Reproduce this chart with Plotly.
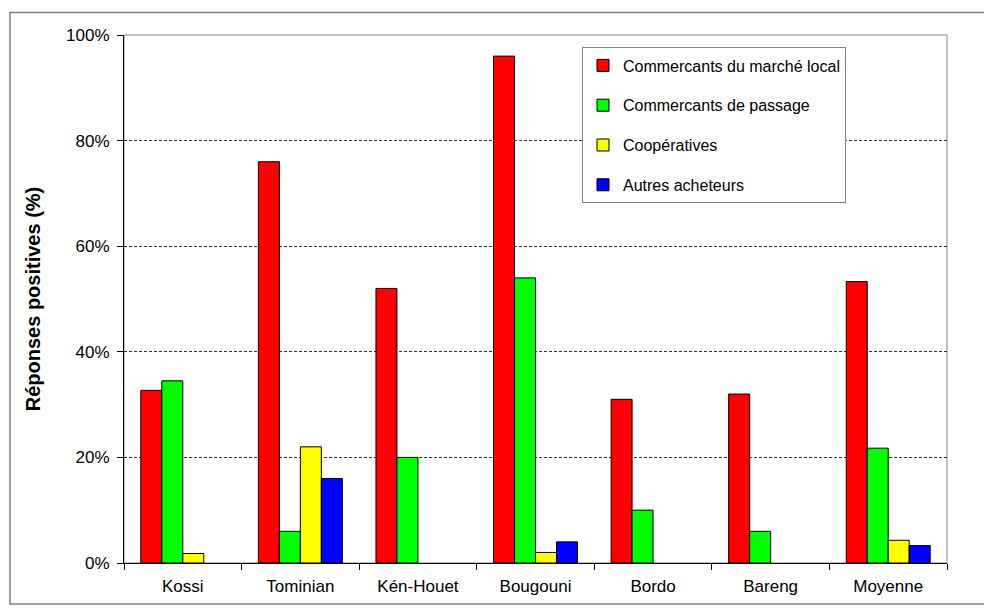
import plotly.graph_objects as go

# Sites surveyed plus the overall mean
categories = ["Kossi", "Tominian", "Kén-Houet", "Bougouni", "Bordo", "Bareng", "Moyenne"]

# Share of positive answers (%) for each buyer type
marche_local = [32.7, 76, 52, 96, 31, 32, 53.3]
de_passage = [34.5, 6, 20, 54, 10, 6, 21.75]
cooperatives = [1.8, 22, 0, 2, 0, 0, 4.3]
autres = [0, 16, 0, 4, 0, 0, 3.3]

series_names = [
    "Commercants du marché local",
    "Commercants de passage",
    "Coopératives",
    "Autres acheteurs",
]
series_values = [marche_local, de_passage, cooperatives, autres]
series_colors = ["#FF0000", "#00FF00", "#FFFF00", "#0000FF"]

y_ticks = [0, 20, 40, 60, 80, 100]

FONT = "Liberation Sans, Arial, sans-serif"

fig = go.Figure()
for i, (name, vals, col) in enumerate(zip(series_names, series_values, series_colors)):
    fig.add_trace(
        go.Bar(
            x=categories,
            # zero answers leave an empty slot rather than a flat outlined bar
            y=[v if v else None for v in vals],
            name=name,
            legendgroup=f"g{i}",
            marker=dict(color=col, line=dict(color="#000000", width=1)),
        )
    )

W, H = 984, 615
L, R, T, B = 124, 37, 34.5, 52
pw, ph = W - L - R, H - T - B


def px_x(x):
    return (x - L) / pw


def px_y(y):
    return (H - B - y) / ph


fig.update_layout(
    width=W,
    height=H,
    margin=dict(l=L, r=R, t=T, b=B, autoexpand=False),
    paper_bgcolor="white",
    plot_bgcolor="white",
    barmode="group",
    bargap=0.286,
    bargroupgap=0,
    font=dict(family=FONT, size=17, color="#000000"),
    legend=dict(
        x=px_x(582),
        y=px_y(47),
        xanchor="left",
        yanchor="top",
        bgcolor="white",
        bordercolor="#808080",
        borderwidth=1,
        font=dict(family=FONT, size=16, color="#000000"),
        tracegroupgap=16,
        itemwidth=30,
    ),
    xaxis=dict(
        type="category",
        showline=True,
        linecolor="#000000",
        linewidth=1,
        ticks="outside",
        tickson="boundaries",
        ticklen=6,
        tickcolor="#000000",
        showgrid=False,
        ticklabelstandoff=8,
        tickfont=dict(family=FONT, size=17),
    ),
    yaxis=dict(
        range=[0, 100],
        tickvals=y_ticks,
        ticktext=[f"{v}%" for v in y_ticks],
        showline=True,
        linecolor="#000000",
        linewidth=1,
        ticks="outside",
        ticklen=6,
        tickcolor="#000000",
        showgrid=True,
        gridcolor="#303030",
        gridwidth=1,
        griddash="3px,2px",
        zeroline=False,
        ticklabelstandoff=4,
        tickfont=dict(family=FONT, size=17),
        title=dict(
            text="<b>Réponses positives (%)</b>",
            font=dict(family=FONT, size=20),
            standoff=20,
        ),
    ),
    shapes=[
        # light frame around the plotting area
        dict(
            type="rect", xref="paper", yref="paper",
            x0=0, x1=1, y0=0, y1=1,
            line=dict(color="#B0B0B0", width=1.5),
            layer="below",
        ),
        # outer frame around the whole chart
        dict(
            type="rect", xref="paper", yref="paper",
            x0=px_x(10), x1=px_x(1000), y0=px_y(604), y1=px_y(12),
            line=dict(color="#808080", width=1.5),
            layer="below",
        ),
    ],
)

fig.write_html("out.html")
